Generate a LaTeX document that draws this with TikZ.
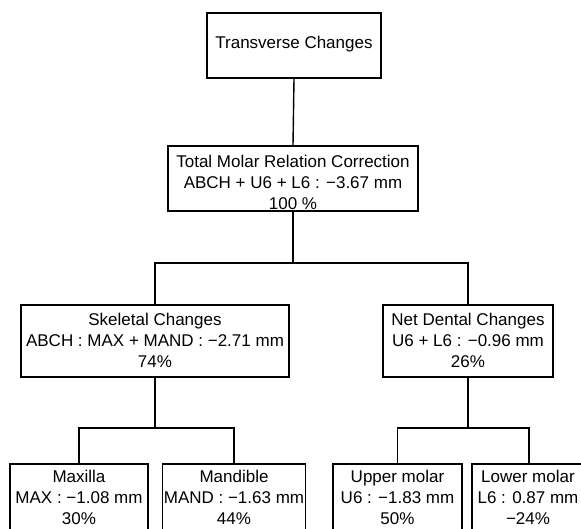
\documentclass[tikz,border=0pt]{standalone}
\usepackage{fontspec}
\setmainfont{Liberation Sans}
\begin{document}
\begin{tikzpicture}[x=1pt,y=-1pt,
  box/.style={draw=black, line width=1.5pt, rectangle, inner sep=0pt},
  txt/.style={align=center, inner sep=0pt, font=\fontsize{17}{21}\selectfont},
  conn/.style={draw=black, line width=1.4pt}]
\clip (0,0) rectangle (581,528);
% boxes
\node[box, minimum width=174pt, minimum height=65pt] (t0) at (294,45.5) {};
\node[txt] (t0t) at (294,44) {Transverse Changes};

\node[box, minimum width=250pt, minimum height=65pt] (b2) at (293,178.5) {};
\node[txt] (b2t) at (293,182) {Total Molar Relation Correction\\ABCH + U6 + L6 : −3.67 mm\\100 \%};

\node[box, minimum width=268pt, minimum height=72pt] (sk) at (155,341) {};
\node[txt] (skt) at (155,340.5) {Skeletal Changes\\ABCH : MAX + MAND : −2.71 mm\\74\%};

\node[box, minimum width=170pt, minimum height=72pt] (nd) at (468,341) {};
\node[txt] (ndt) at (468,340.5) {Net Dental Changes\\U6 + L6 : −0.96 mm\\26\%};

\node[box, minimum width=138pt, minimum height=110pt] (mx) at (79,519) {};
\node[txt] (mxt) at (79,497) {Maxilla\\MAX : −1.08 mm\\30\%};

\node[box, minimum width=143pt, minimum height=110pt] (md) at (234,519) {};
\node[txt] (mdt) at (234,497) {Mandible\\MAND : −1.63 mm\\44\%};

\node[box, minimum width=129pt, minimum height=110pt] (um) at (397.5,519) {};
\node[txt] (umt) at (397.5,497) {Upper molar\\U6 : −1.83 mm\\50\%};

\node[box, minimum width=114pt, minimum height=110pt] (lm) at (529,519) {};
\node[txt] (lmt) at (528,497) {Lower molar\\L6 : 0.87 mm\\−24\%};

% junctions
\coordinate (j1) at (293,263);
\coordinate (j2) at (155,428);
\coordinate (j3) at (468,428);

% connectors
\draw[conn] (t0.south) -- (b2.north);
\draw[conn] (b2.south) -- (j1);
\draw[conn] (sk.north) |- (j1) -| (nd.north);
\draw[conn] (sk.south) -- (j2);
\draw[conn] (mx.north) |- (j2) -| (md.north);
\draw[conn] (nd.south) -- (j3);
\draw[conn] (um.north) |- (j3) -| (lm.north);
\end{tikzpicture}
\end{document}
